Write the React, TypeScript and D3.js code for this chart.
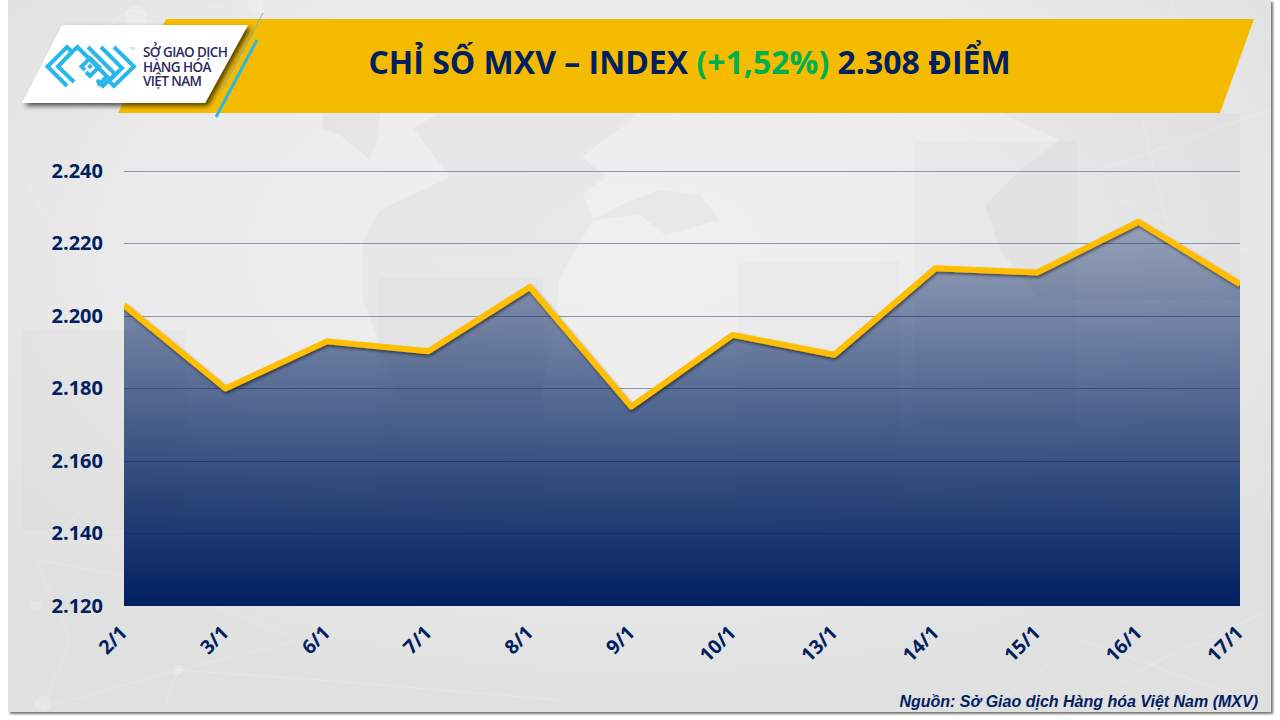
import * as React from "react"
import * as d3 from "d3"

const dates = ["2/1", "3/1", "6/1", "7/1", "8/1", "9/1", "10/1", "13/1", "14/1", "15/1", "16/1", "17/1"]
const values = [2203, 2180, 2193, 2190.3, 2208, 2175, 2194.8, 2189.3, 2213.2, 2212, 2226, 2208.8]
const yTicks = [2120, 2140, 2160, 2180, 2200, 2220, 2240]

const NAVY = "#002060"
const GOLD = "#FFBF00"
const BANNER = "#F4BB00"
const CYAN = "#29B6EA"

const width = 1280
const height = 720
const plot = { left: 124, right: 1240, top: 171, bottom: 606 }

const viLocale = d3.formatLocale({ decimal: ",", thousands: ".", grouping: [3], currency: ["", ""] })

// faint background pieces, only decoration behind the chart
const candleBlocks = [
  [22, 330, 164, 200],
  [378, 277, 165, 230],
  [737, 261, 162, 240],
  [914, 141, 163, 290],
]
const oceanPaths = [
  "M440,113 L637,113 L627,123 L582,157 L607,177 L583,193 L593,220 L560,277 L555,330 L540,400 L400,400 L363,300 L363,240 L380,210 L450,177 L413,128 Z",
  "M593,220 L620,205 L660,190 L700,195 L720,220 L665,235 L640,215 Z",
  "M323,113 L380,113 L378,135 L370,160 L340,135 L323,130 Z",
  "M1000,113 L1240,113 L1240,300 L1040,300 L1000,250 L985,205 L1020,170 L1060,140 Z",
]
const networkLines = [
  "M43,708 L178,670 L300,640 L150,580 L36,560",
  "M43,708 L70,640 L36,560 L90,500",
  "M178,670 L215,708 M178,670 L165,708 M178,670 L320,680 L560,700",
  "M1080,640 L1000,700 L1075,708 M1080,640 L1250,700 M1075,708 L1160,660 L1270,610",
  "M1120,200 L1270,260 M1140,110 L1180,280 L1210,300 M1100,170 L1270,110 M1170,0 L1190,60",
  "M130,10 L60,60 M130,10 L240,40 M250,0 L200,10 M20,170 L60,240 L12,290",
]

function Axes() {
  const ref = React.useRef<SVGGElement>(null)
  const x = d3.scalePoint<string>().domain(dates).range([plot.left, plot.right])
  const y = d3.scaleLinear().domain([2120, 2240]).range([plot.bottom, plot.top])

  React.useEffect(() => {
    if (!ref.current) return
    const g = d3.select(ref.current)
    g.selectAll("*").remove()

    const yAxis = g
      .append("g")
      .attr("transform", `translate(${plot.left},0)`)
      .call(d3.axisLeft(y).tickValues(yTicks).tickSize(0).tickPadding(21).tickFormat((d) => viLocale.format(",d")(d as number)))
    yAxis.select(".domain").remove()
    yAxis
      .selectAll("text")
      .attr("fill", NAVY)
      .style("font-family", "'Open Sans'")
      .style("font-weight", 700)
      .style("font-size", "20px")

    const xAxis = g
      .append("g")
      .attr("transform", `translate(0,${plot.bottom})`)
      .call(d3.axisBottom(x).tickSize(0))
    xAxis.select(".domain").remove()
    xAxis
      .selectAll("text")
      .attr("fill", NAVY)
      .attr("text-anchor", "end")
      .attr("dy", 0)
      .attr("y", 0)
      .attr("transform", "translate(4,28) rotate(-45)")
      .style("font-family", "'Open Sans'")
      .style("font-weight", 700)
      .style("font-size", "19.5px")
  }, [])

  return <g ref={ref} />
}

export default function App() {
  const x = d3.scalePoint<string>().domain(dates).range([plot.left, plot.right])
  const y = d3.scaleLinear().domain([2120, 2240]).range([plot.bottom, plot.top])

  const line = d3
    .line<number>()
    .x((_, i) => x(dates[i]) as number)
    .y((d) => y(d))
  const area = d3
    .area<number>()
    .x((_, i) => x(dates[i]) as number)
    .y0(plot.bottom)
    .y1((d) => y(d))

  return (
    <div style={{ position: "fixed", left: 0, top: 0 }}>
      <svg width={width} height={height} viewBox={`0 0 ${width} ${height}`} style={{ display: "block", background: "#fff" }}>
        <defs>
          <radialGradient id="panelBg" cx="50%" cy="35%" r="65%">
            <stop offset="0%" stopColor="#f0f0f0" />
            <stop offset="60%" stopColor="#ebebeb" />
            <stop offset="100%" stopColor="#e0e0e0" />
          </radialGradient>
          <linearGradient id="areaFill" gradientUnits="userSpaceOnUse" x1={0} x2={0} y1={y(2226)} y2={plot.bottom}>
            <stop offset="0%" stopColor={NAVY} stopOpacity={0.34} />
            <stop offset="100%" stopColor={NAVY} stopOpacity={1} />
          </linearGradient>
          <filter id="panelShadow" x="-2%" y="-2%" width="104%" height="104%">
            <feDropShadow dx={2} dy={2} stdDeviation={1.2} floodColor="#000" floodOpacity={0.55} />
          </filter>
          <filter id="lineShadow" x="-2%" y="-10%" width="104%" height="120%">
            <feDropShadow dx={1} dy={2} stdDeviation={1.5} floodColor="#000" floodOpacity={0.5} />
          </filter>
          <filter id="logoShadow" x="-10%" y="-10%" width="120%" height="130%">
            <feDropShadow dx={3} dy={3} stdDeviation={2.5} floodColor="#000" floodOpacity={0.65} />
          </filter>
          <clipPath id="plotClip">
            <rect x={plot.left} y={100} width={plot.right - plot.left} height={plot.bottom - 100} />
          </clipPath>
        </defs>

        {/* panel + background */}
        <rect x={8} y={0} width={1263} height={712} fill="url(#panelBg)" filter="url(#panelShadow)" />
        <g fill="#000" opacity={0.025}>
          {oceanPaths.map((d) => (
            <path key={d} d={d} />
          ))}
        </g>
        <g fill="#8a8a8a" opacity={0.035}>
          {candleBlocks.map((b) => (
            <rect key={b[0]} x={b[0]} y={b[1]} width={b[2]} height={b[3]} />
          ))}
        </g>
        <g fill="none" stroke="#fff" strokeOpacity={0.2} strokeWidth={1}>
          {networkLines.map((d) => (
            <path key={d} d={d} />
          ))}
        </g>
        <g fill="#fff" opacity={0.22}>
          <circle cx={43} cy={704} r={8} />
          <circle cx={178} cy={670} r={5} />
          <circle cx={36} cy={606} r={5} />
          <circle cx={136} cy={17} r={11} />
          <circle cx={256} cy={5} r={8} />
        </g>

        {/* header banner */}
        <polygon points="166,19 1254,19 1220,113 118,113" fill={BANNER} />
        <line x1={263} y1={13} x2={222} y2={90} stroke="#6fb7c9" strokeWidth={1} />
        <line x1={257} y1={40} x2={216} y2={117} stroke={CYAN} strokeWidth={3} />
        <polygon points="62,25 248,25 205,103 22,103" fill="#fff" filter="url(#logoShadow)" />

        {/* logo mark */}
        <g fill="none" stroke={CYAN} strokeWidth={4} strokeLinejoin="miter">
          <path d="M67,86 L47.5,66.5 L67,47 L72,52 L77.5,47 L107,76.5 L98,85.5" />
          <path d="M74,82 L58,66.5 L72,52" />
          <path d="M85,70 L81.5,66.5 L90,58 L99,67 L90,76 L86,72" />
          <rect x={88} y={64.5} width={4} height={4} transform="rotate(45 90 66.5)" fill={CYAN} stroke="none" />
          <path d="M88,47 L115,74 L103,86 L97,80" />
          <path d="M101,47 L122,68 L110,80" />
          <path d="M114,47 L134,66.5 L114,86 L108,80" />
        </g>
        <text x={129} y={50} fontFamily="Open Sans" fontSize={4} fill="#7cc7e6">TM</text>
        <g fontFamily="Open Sans" fontWeight={600} fontSize={13.5} fill="#2a2a5c" letterSpacing={-0.6}>
          <text x={143} y={57}>SỞ GIAO DỊCH</text>
          <text x={143} y={72}>HÀNG HÓA</text>
          <text x={143} y={86}>VIỆT NAM</text>
        </g>

        {/* title */}
        <text x={689.5} y={74} textAnchor="middle" fontFamily="Open Sans" fontWeight={700} fontSize={32} fill={NAVY}>
          CHỈ SỐ MXV – INDEX <tspan fill="#00B050">(+1,52%)</tspan> 2.308 ĐIỂM
        </text>

        {/* chart: grid sits under the translucent area so it fades towards the bottom */}
        <g stroke="#8a96ad" strokeWidth={1} shapeRendering="crispEdges">
          {yTicks.slice(1).map((t) => (
            <line key={t} x1={plot.left} x2={plot.right} y1={y(t)} y2={y(t)} />
          ))}
        </g>
        <path d={area(values) ?? ""} fill="url(#areaFill)" />
        <g clipPath="url(#plotClip)">
          <path d={line(values) ?? ""} fill="none" stroke={GOLD} strokeWidth={6} strokeLinejoin="round" filter="url(#lineShadow)" />
        </g>
        <Axes />

        {/* source */}
        <text x={1258} y={707} textAnchor="end" fontFamily="Liberation Sans" fontStyle="italic" fontWeight={700} fontSize={16} fill={NAVY}>
          Nguồn: Sở Giao dịch Hàng hóa Việt Nam (MXV)
        </text>
      </svg>
    </div>
  )
}
